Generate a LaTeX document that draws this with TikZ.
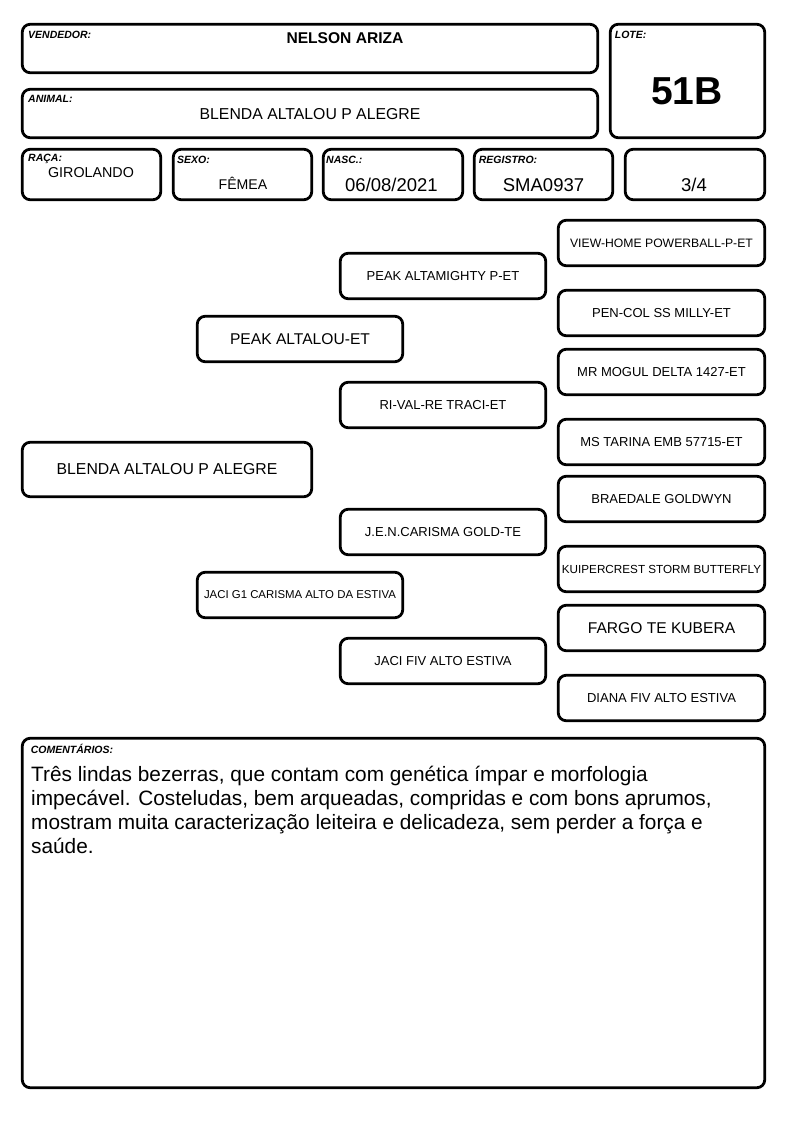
\documentclass[tikz,border=0pt]{standalone}
\usepackage{fontspec}
\setmainfont{Liberation Sans}
\begin{document}
\begin{tikzpicture}[x=1pt,y=-1pt,
  box/.style={draw=black, line width=2.8pt, rounded corners=8pt, inner sep=0pt, fill=white},
  lbl/.style={anchor=base west, inner sep=0pt, font=\fontsize{10.5}{12}\selectfont\bfseries\itshape},
  val/.style={anchor=base, inner sep=0pt},
  cline/.style={anchor=base west, inner sep=0pt, font=\fontsize{20.8}{24}\selectfont},
  pa/.style={font=\fontsize{13}{15}\selectfont},
  pb/.style={font=\fontsize{15.6}{18}\selectfont}]
\useasboundingbox[fill=white] (0,0) rectangle (794,1123);
% header boxes
\node[box, minimum width=575.5pt, minimum height=48.5pt] (vend) at (310,48.5) {};
\node[box, minimum width=575.5pt, minimum height=48.5pt] (anim) at (310,113.5) {};
\node[box, minimum width=154.5pt, minimum height=113.5pt] (lote) at (687.5,81) {};
\node[box, minimum width=138.5pt, minimum height=50.5pt] (raca) at (91.5,174.5) {};
\node[box, minimum width=138.5pt, minimum height=50.5pt] (sexo) at (242.5,174.5) {};
\node[box, minimum width=139.5pt, minimum height=50.5pt] (nasc) at (393,174.5) {};
\node[box, minimum width=138.5pt, minimum height=50.5pt] (reg) at (543.5,174.5) {};
\node[box, minimum width=139.5pt, minimum height=50.5pt] (frac) at (695,174.5) {};
% labels
\node[lbl] (lvend) at (28,38.5) {VENDEDOR:};
\node[lbl] (lanim) at (28,102.3) {ANIMAL:};
\node[lbl] (llote) at (614.7,39) {LOTE:};
\node[lbl] (lraca) at (28,162) {RAÇA:};
\node[lbl] (lsexo) at (177,164) {SEXO:};
\node[lbl] (lnasc) at (326,164) {NASC.:};
\node[lbl] (lreg) at (478.7,163.5) {REGISTRO:};
% values
\node[val, font=\fontsize{15.6}{18}\selectfont\bfseries] (tvend) at (345,43.3) {NELSON ARIZA};
\node[val, font=\fontsize{15.8}{18}\selectfont] (tanim) at (310,119.3) {BLENDA ALTALOU P ALEGRE};
\node[val, font=\fontsize{39}{44}\selectfont\bfseries] (tlote) at (687,105) {51B};
\node[val, font=\fontsize{14.3}{17}\selectfont] (traca) at (91,177.7) {GIROLANDO};
\node[val, font=\fontsize{14.1}{17}\selectfont] (tsexo) at (243,189.3) {FÊMEA};
\node[val, font=\fontsize{18.5}{21}\selectfont] (tnasc) at (391.5,191.7) {06/08/2021};
\node[val, font=\fontsize{18.5}{21}\selectfont] (treg) at (543.5,191.7) {SMA0937};
\node[val, font=\fontsize{18.5}{21}\selectfont] (tfrac) at (694,191.7) {3/4};
% pedigree
\node[box, minimum width=289.5pt, minimum height=54.5pt, font=\fontsize{15.8}{18}\selectfont] (g1) at (167,469.5) {BLENDA ALTALOU P ALEGRE};
\node[box, pb, minimum width=205.5pt, minimum height=45.5pt] (g2a) at (300,339) {PEAK ALTALOU-ET};
\node[box, minimum width=205.5pt, minimum height=45.5pt, font=\fontsize{11.4}{13}\selectfont] (g2b) at (300,595) {JACI G1 CARISMA ALTO DA ESTIVA};
\node[box, pa, minimum width=205.5pt, minimum height=45.5pt] (g3a) at (443,276) {PEAK ALTAMIGHTY P-ET};
\node[box, pa, minimum width=205.5pt, minimum height=45.5pt] (g3b) at (443,405) {RI-VAL-RE TRACI-ET};
\node[box, pa, minimum width=205.5pt, minimum height=45.5pt] (g3c) at (443,532) {J.E.N.CARISMA GOLD-TE};
\node[box, pa, minimum width=205.5pt, minimum height=45.5pt] (g3d) at (443,661) {JACI FIV ALTO ESTIVA};
\node[box, minimum width=206.5pt, minimum height=45.5pt, font=\fontsize{12.2}{14}\selectfont] (g4a) at (661.5,243) {VIEW-HOME POWERBALL-P-ET};
\node[box, pa, minimum width=206.5pt, minimum height=45.5pt] (g4b) at (661.5,313) {PEN-COL SS MILLY-ET};
\node[box, pa, minimum width=206.5pt, minimum height=45.5pt] (g4c) at (661.5,372) {MR MOGUL DELTA 1427-ET};
\node[box, pa, minimum width=206.5pt, minimum height=45.5pt] (g4d) at (661.5,442) {MS TARINA EMB 57715-ET};
\node[box, pa, minimum width=206.5pt, minimum height=45.5pt] (g4e) at (661.5,499) {BRAEDALE GOLDWYN};
\node[box, minimum width=206.5pt, minimum height=45.5pt, font=\fontsize{11.7}{14}\selectfont] (g4f) at (661.5,569) {KUIPERCREST STORM BUTTERFLY};
\node[box, pb, minimum width=206.5pt, minimum height=45.5pt] (g4g) at (661.5,628) {FARGO TE KUBERA};
\node[box, pa, minimum width=206.5pt, minimum height=45.5pt] (g4h) at (661.5,698) {DIANA FIV ALTO ESTIVA};
% comments
\node[box, minimum width=742.5pt, minimum height=349.5pt] (com) at (393.5,913) {};
\node[lbl] (lcom) at (30.7,753.3) {COMENTÁRIOS:};
\node[cline] (c1) at (31,781.7) {Três lindas bezerras, que contam com genética ímpar e morfologia};
\node[cline] (c2) at (31,805.7) {impecável. Costeludas, bem arqueadas, compridas e com bons aprumos,};
\node[cline] (c3) at (31,829.7) {mostram muita caracterização leiteira e delicadeza, sem perder a força e};
\node[cline] (c4) at (31,853.7) {saúde.};
\end{tikzpicture}
\end{document}
